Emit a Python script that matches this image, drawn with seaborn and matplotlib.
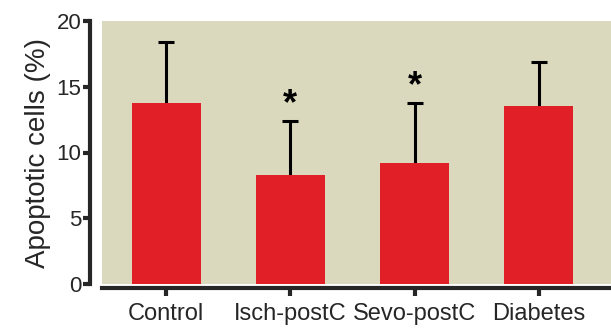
import numpy as np
import matplotlib
matplotlib.use("Agg")
import matplotlib.pyplot as plt
import seaborn as sns

# datos
grupos = ["Control", "Isch-postC", "Sevo-postC", "Diabetes"]
medias = [13.75, 8.3, 9.2, 13.5]
sd = [4.65, 4.1, 4.55, 3.4]
signif = ["", "*", "*", ""]

ROJO = "#E11F27"
FONDO = "#DAD9BD"

sns.set_style("ticks")
plt.rcParams["font.family"] = ["Liberation Sans", "DejaVu Sans"]

fig = plt.figure(figsize=(6.11, 3.29), dpi=100)
ax = fig.add_axes([102 / 611, 45 / 329, 509 / 611, 263 / 329])
ax.set_facecolor(FONDO)

sns.barplot(x=grupos, y=medias, color=ROJO, saturation=1, width=0.555,
            errorbar=None, linewidth=0, zorder=2, ax=ax)

# barras de error: solo se ve la parte de arriba (la de abajo queda tapada)
pos = np.arange(len(grupos))
ax.errorbar(pos, medias, yerr=sd, fmt="none", ecolor="black",
            elinewidth=2.2, capsize=6, capthick=2.2, zorder=1)

for x, m, s, t in zip(pos, medias, sd, signif):
    if t:
        ax.text(x, m + s - 0.1, t, ha="center", va="bottom",
                fontsize=26, fontweight="bold", color="black")

ax.set_xlim(-0.515, 3.58)
ax.set_ylim(0, 20)
ax.set_yticks([0, 5, 10, 15, 20])
ax.set_ylabel("Apoptotic cells (%)", fontsize=20, labelpad=4)
ax.set_xlabel("")

for lado in ["top", "right"]:
    ax.spines[lado].set_visible(False)
ax.spines["left"].set_position(("outward", 9))
ax.spines["bottom"].set_position(("outward", 3))
ax.spines["left"].set_linewidth(3)
ax.spines["bottom"].set_linewidth(3)

ax.tick_params(axis="y", labelsize=16, length=5, width=3, pad=1)
ax.tick_params(axis="x", labelsize=17, length=6, width=3, pad=5)

fig.savefig("out.png", dpi=100)
